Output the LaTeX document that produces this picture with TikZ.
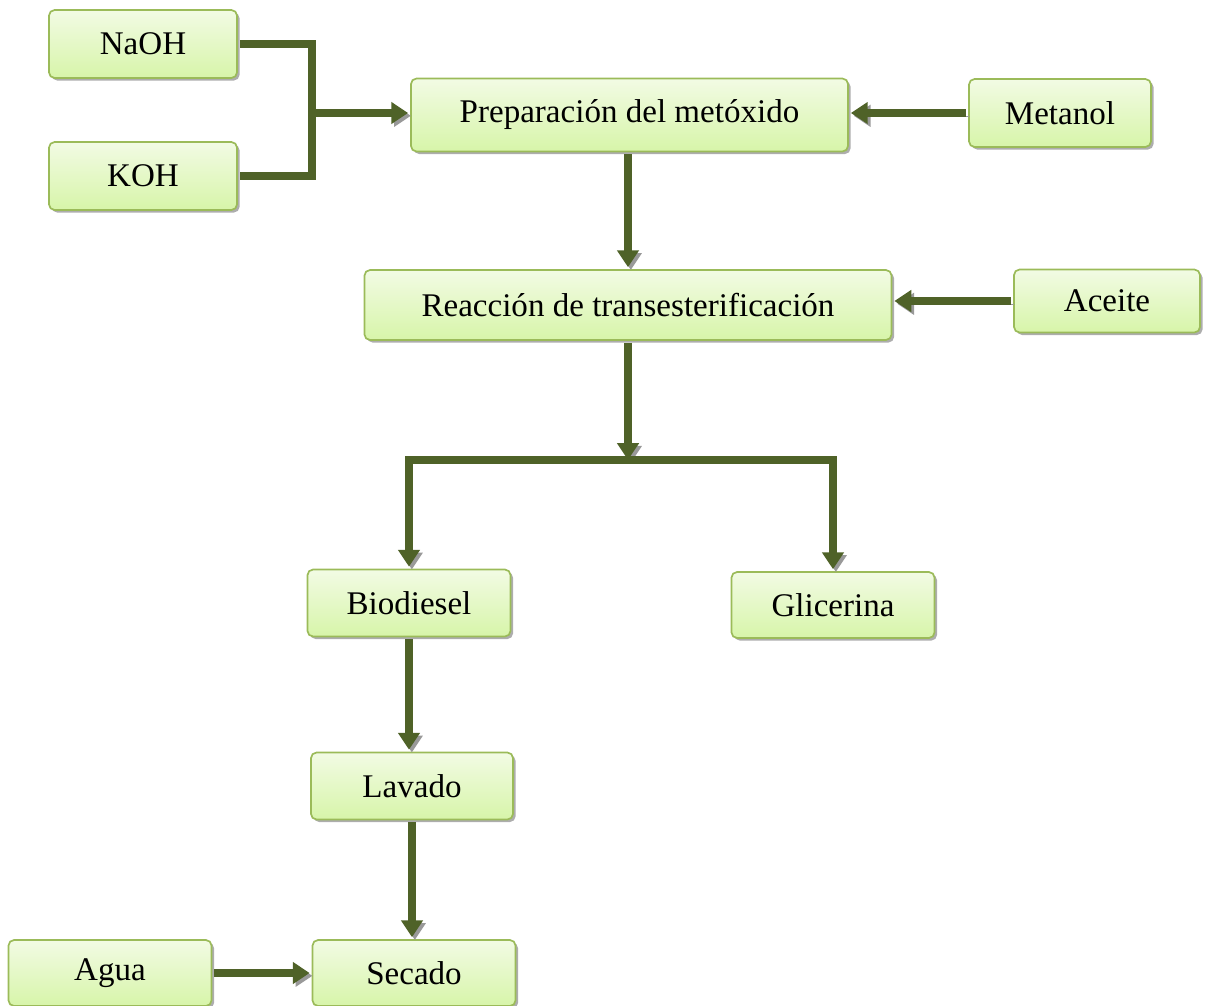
\documentclass[tikz,border=0pt]{standalone}
\usepackage{fontspec}
\setmainfont{Liberation Serif}
\usetikzlibrary{arrows.meta,shadows}
\definecolor{boxtop}{HTML}{F2FBE4}
\definecolor{boxbot}{HTML}{D7F5A9}
\definecolor{boxline}{HTML}{9BBB59}
\definecolor{flowcol}{HTML}{4F6228}
\tikzset{
    stepbox/.style={draw=boxline,line width=1.2pt,rounded corners=4pt,
        top color=boxtop,bottom color=boxbot,outer sep=2pt,
        drop shadow={shadow xshift=1.8pt,shadow yshift=-1.8pt,fill=black!40,opacity=.8},
        font=\fontsize{23.5}{28}\selectfont},
    flowline/.style={draw=flowcol,line width=5pt,line join=miter,
        preaction={draw=black!40,transform canvas={shift={(2pt,-2pt)}}}},
    flowarrow/.style={flowline,-{Triangle[length=12pt,width=15pt]}},
}
\newcommand\StepBox[6]{%
    \node[stepbox,minimum width=#4cm,minimum height=#5cm] (#1) at (#2,#3) {#6};
}

\begin{document}
\begin{tikzpicture}[x=0.025cm,y=-0.025cm]
    \useasboundingbox (0,0) rectangle (1206,1006);
    % boxes
    \StepBox{naoh}{143}{44}{4.7}{1.7}{NaOH}
    \StepBox{koh}{143}{176}{4.7}{1.7}{KOH}
    \StepBox{prep}{629.5}{115}{10.925}{1.825}{Preparación del metóxido}
    \StepBox{metanol}{1060}{113}{4.55}{1.7}{Metanol}
    \StepBox{react}{628}{305}{13.175}{1.75}{Reacción de transesterificación}
    \StepBox{aceite}{1107}{301}{4.65}{1.575}{Aceite}
    \StepBox{bio}{409}{603}{5.075}{1.675}{Biodiesel}
    \StepBox{gli}{833}{605}{5.075}{1.65}{Glicerina}
    \StepBox{lavado}{412}{786}{5.05}{1.675}{Lavado}
    \StepBox{agua}{110}{973}{5.075}{1.65}{Agua}
    \StepBox{secado}{414}{973}{5.075}{1.65}{Secado}
    % junctions
    \coordinate (jA) at (312,113);
    \coordinate (split) at (628,460);
    % connectors
    \draw[flowline] (naoh.east) -| (jA) |- (koh.east);
    \draw[flowarrow] (jA) -- (jA -| prep.west);
    \draw[flowarrow] (metanol.west) -- (metanol.west -| prep.east);
    \draw[flowarrow] (prep.south -| split) -- (react.north -| split);
    \draw[flowarrow] (aceite.west) -- (aceite.west -| react.east);
    \draw[flowarrow] (react.south -| split) -- (split);
    \draw[flowarrow] (split) -| (bio.north);
    \draw[flowarrow] (split) -| (gli.north);
    \draw[flowarrow] (bio.south) -- (bio.south |- lavado.north);
    \draw[flowarrow] (lavado.south) -- (lavado.south |- secado.north);
    \draw[flowarrow] (agua.east) -- (secado.west);
\end{tikzpicture}
\end{document}
